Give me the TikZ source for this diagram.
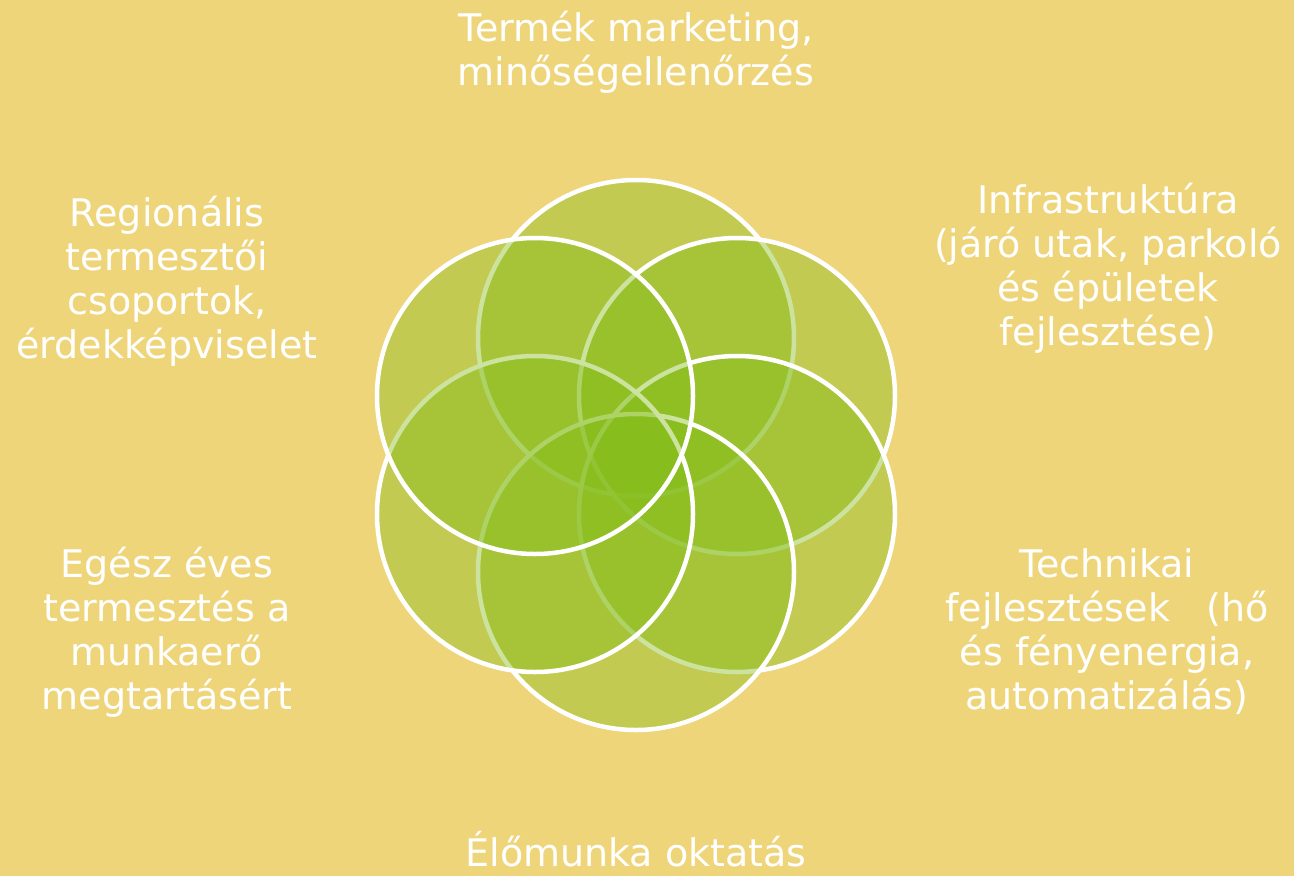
\documentclass[tikz,border=0pt]{standalone}
\usepackage{fontspec}
\setmainfont{DejaVu Sans}
\usepackage{tikz}

\definecolor{sand}{RGB}{239,213,122}
\definecolor{leaf}{RGB}{132,189,26}

\begin{document}
\begin{tikzpicture}[x=1pt,y=-1pt,
		  petal/.style={circle,minimum size=316pt,inner sep=0pt,fill=leaf,fill opacity=0.42,draw=white,draw opacity=1,line width=4.5pt},
		  label/.style={text=white,align=center,font=\fontsize{38}{44}\selectfont}]
		  \fill[sand] (0,0) rectangle (1294,876);
		  \useasboundingbox (0,0) rectangle (1294,876);

		  \node[petal] (top) at (636,338) {};
		  \node[petal] (topright) at (737,396) {};
		  \node[petal] (botright) at (737,514) {};
		  \node[petal] (bot) at (636,572) {};
		  \node[petal] (botleft) at (535,514) {};
		  \node[petal] (topleft) at (535,396) {};

		  \node[label] (marketing) at (636,52) {Termék marketing,\\minőségellenőrzés};
		  \node[label] (infra) at (1108,268) {Infrastruktúra\\(járó utak, parkoló\\és épületek\\fejlesztése)};
		  \node[label] (technika) at (1107,632) {Technikai\\fejlesztések \ \ (hő\\és fényenergia,\\automatizálás)};
		  \node[label,anchor=base] (oktatas) at (636,866) {Élőmunka oktatás};
		  \node[label] (egesz) at (167,632) {Egész éves\\termesztés a\\munkaerő\\megtartásért};
		  \node[label] (regio) at (167,281) {Regionális\\termesztői\\csoportok,\\érdekképviselet};
		\end{tikzpicture}
\end{document}
